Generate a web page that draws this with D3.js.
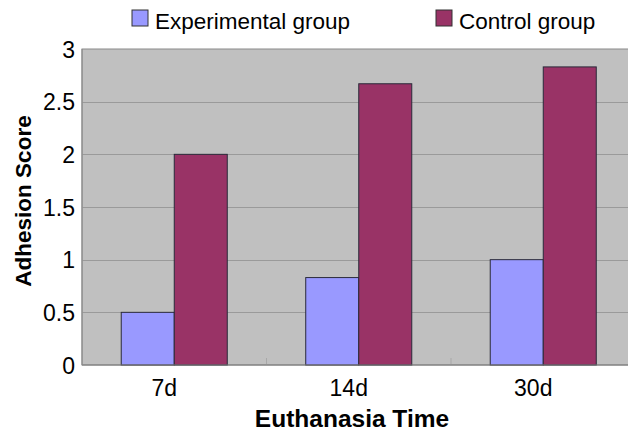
<!DOCTYPE html>
<html>
<head>
<meta charset="utf-8">
<script src="https://cdn.jsdelivr.net/npm/d3@7"></script>
<style>
    body { margin: 0; background: #fff; }
    svg text { font-family: 'Liberation Sans', Arial, sans-serif; fill: #000; }
</style>
</head>
<body>
<div id="chart"></div>
<script>
// data
var categories = ['7d', '14d', '30d'];
var seriesNames = ['Experimental group', 'Control group'];
var experimental = [0.5, 0.83, 1.0];
var control = [2.0, 2.67, 2.83];
var yTicks = [0, 0.5, 1, 1.5, 2, 2.5, 3];

var colors = ['#9999ff', '#993366'];
var width = 628, height = 431;
var margin = {top: 49, bottom: 66, left: 82};
var plotRight = 635.5; // plot area runs past the picture's right edge

var rows = categories.map(function (c, i) {
    return {cat: c, values: [experimental[i], control[i]]};
});

var svg = d3.select('#chart').append('svg')
    .attr('width', width)
    .attr('height', height);

var x0 = d3.scaleBand()
    .domain(categories)
    .range([margin.left, plotRight]);

var x1 = d3.scaleBand()
    .domain(d3.range(seriesNames.length))
    .range([0, x0.bandwidth()])
    .paddingInner(0)
    .paddingOuter(0.74);

var y = d3.scaleLinear()
    .domain([0, 3])
    .range([height - margin.bottom, margin.top]);

// plot background
svg.append('rect')
    .attr('x', margin.left)
    .attr('y', y(3))
    .attr('width', plotRight - margin.left)
    .attr('height', y(0) - y(3))
    .attr('fill', '#c0c0c0')
    .attr('stroke', '#8a8a8a')
    .attr('stroke-width', 1);

// gridlines
svg.append('g')
    .selectAll('line')
    .data(yTicks.slice(1, -1))
    .enter().append('line')
    .attr('x1', margin.left)
    .attr('x2', plotRight)
    .attr('y1', function (d) { return Math.round(y(d)) + 0.5; })
    .attr('y2', function (d) { return Math.round(y(d)) + 0.5; })
    .attr('stroke', '#9a9a9a')
    .attr('stroke-width', 1);

// category tick marks at band boundaries
svg.append('g')
    .selectAll('line')
    .data(categories.slice(1))
    .enter().append('line')
    .attr('x1', function (d) { return x0(d); })
    .attr('x2', function (d) { return x0(d); })
    .attr('y1', y(0))
    .attr('y2', y(0) - 7)
    .attr('stroke', '#a8a8a8');

// bars
var groups = svg.append('g')
    .selectAll('g')
    .data(rows)
    .enter().append('g')
    .attr('transform', function (d) { return 'translate(' + x0(d.cat) + ',0)'; });

groups.selectAll('rect')
    .data(function (d) { return d.values; })
    .enter().append('rect')
    .attr('x', function (d, i) { return x1(i); })
    .attr('y', function (d) { return y(d); })
    .attr('width', x1.bandwidth())
    .attr('height', function (d) { return y(0) - y(d); })
    .attr('fill', function (d, i) { return colors[i]; })
    .attr('stroke', '#2a2a3a')
    .attr('stroke-width', 1);

// axis lines
svg.append('line')
    .attr('x1', margin.left).attr('x2', plotRight)
    .attr('y1', y(0)).attr('y2', y(0))
    .attr('stroke', '#7a7a7a');
svg.append('line')
    .attr('x1', margin.left).attr('x2', margin.left)
    .attr('y1', y(0)).attr('y2', y(3))
    .attr('stroke', '#8a8a8a');

// y axis labels
var yAxis = d3.axisLeft(y)
    .tickValues(yTicks)
    .tickSize(0)
    .tickPadding(7)
    .tickFormat(d3.format('~g'));
var yG = svg.append('g')
    .attr('transform', 'translate(' + margin.left + ',0)')
    .call(yAxis);
yG.select('.domain').remove();
yG.selectAll('text')
    .style('font-size', '23px')
    .attr('dy', '0.36em');

// x axis labels
var xAxis = d3.axisBottom(x0)
    .tickSize(0)
    .tickPadding(15);
var xG = svg.append('g')
    .attr('transform', 'translate(-10,' + y(0) + ')')
    .call(xAxis);
xG.select('.domain').remove();
xG.selectAll('text')
    .style('font-size', '23px');

// axis titles
svg.append('text')
    .attr('x', 352)
    .attr('y', 427)
    .attr('text-anchor', 'middle')
    .style('font-size', '24.5px')
    .style('font-weight', 'bold')
    .text('Euthanasia Time');

svg.append('text')
    .attr('transform', 'translate(31,201) rotate(-90)')
    .attr('text-anchor', 'middle')
    .style('font-size', '22.5px')
    .style('font-weight', 'bold')
    .text('Adhesion Score');

// legend
var legendX = [132, 436];
var legend = svg.append('g')
    .selectAll('g')
    .data(seriesNames)
    .enter().append('g')
    .attr('transform', function (d, i) { return 'translate(' + legendX[i] + ',10)'; });
legend.append('rect')
    .attr('width', 16)
    .attr('height', 16)
    .attr('fill', function (d, i) { return colors[i]; })
    .attr('stroke', '#333')
    .attr('stroke-width', 1);
legend.append('text')
    .attr('x', 23)
    .attr('y', 19)
    .style('font-size', '22.5px')
    .text(function (d) { return d; });
</script>
</body>
</html>
